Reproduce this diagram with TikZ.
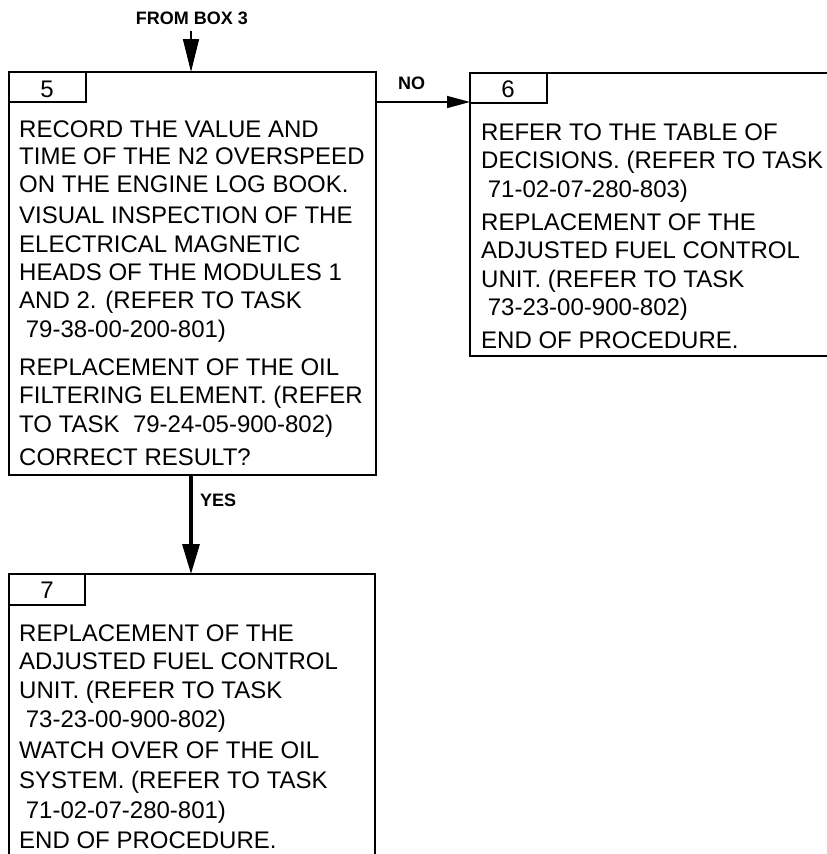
\documentclass[tikz,border=0pt]{standalone}
\usepackage{fontspec}
\setmainfont{Liberation Sans}
\usetikzlibrary{arrows.meta}
\begin{document}
\begin{tikzpicture}[x=1pt,y=-1pt,
  boxstyle/.style={draw=black, line width=1.8pt, rectangle, inner sep=0pt, outer sep=0pt, anchor=north west},
  tabstyle/.style={draw=black, line width=1.8pt, rectangle, inner sep=0pt, outer sep=0pt, anchor=north west, minimum width=77pt, minimum height=30pt},
  numstyle/.style={anchor=base, inner sep=0pt, font=\fontsize{24}{28}\selectfont},
  txt/.style={anchor=base west, inner sep=0pt, font=\fontsize{24}{28}\selectfont},
  lbl/.style={inner sep=0pt, font=\fontsize{18}{20}\selectfont\bfseries},
  thinarrow/.style={line width=1.5pt, -{Triangle[length=33pt,width=16pt]}},
  noarrow/.style={line width=1.5pt, -{Triangle[length=23pt,width=12pt]}},
  thickarrow/.style={line width=3.2pt, -{Triangle[length=30pt,width=17pt]}}
]
\useasboundingbox (0,0) rectangle (827,854);
\clip (0,0) rectangle (827,854);

% boxes
\node[boxstyle, minimum width=367pt, minimum height=403pt] (box5) at (9,72) {};
\node[tabstyle] (tab5) at (9,72) {};
\node[numstyle] (n5) at (47,97) {5};

\node[boxstyle, minimum width=380pt, minimum height=283pt] (box6) at (470,73) {};
\node[tabstyle] (tab6) at (470,73) {};
\node[numstyle] (n6) at (508,97) {6};

\node[boxstyle, minimum width=366pt, minimum height=320pt] (box7) at (9,574) {};
\node[tabstyle, minimum width=76pt, minimum height=31pt] (tab7) at (9,574) {};
\node[numstyle] (n7) at (47,598) {7};

% box 5 text
\foreach \yy/\tt [count=\i] in {
  137/{RECORD THE VALUE AND},
  164/{TIME OF THE N2 OVERSPEED},
  192/{ON THE ENGINE LOG BOOK.},
  223/{VISUAL INSPECTION OF THE},
  252/{ELECTRICAL MAGNETIC},
  280/{HEADS OF THE MODULES 1},
  308/{AND 2. (REFER TO TASK},
  337/{\ 79-38-00-200-801)},
  375/{REPLACEMENT OF THE OIL},
  403/{FILTERING ELEMENT. (REFER},
  432/{TO TASK\ \ 79-24-05-900-802)},
  465/{CORRECT RESULT?}}
  {\node[txt] (t5l\i) at (19,\yy) {\tt};}

% box 6 text
\foreach \yy/\tt [count=\i] in {
  140/{REFER TO THE TABLE OF},
  168/{DECISIONS. (REFER TO TASK},
  197/{\ 71-02-07-280-803)},
  230/{REPLACEMENT OF THE},
  258/{ADJUSTED FUEL CONTROL},
  287/{UNIT. (REFER TO TASK},
  315/{\ 73-23-00-900-802)},
  348/{END OF PROCEDURE.}}
  {\node[txt] (t6l\i) at (481,\yy) {\tt};}

% box 7 text
\foreach \yy/\tt [count=\i] in {
  641/{REPLACEMENT OF THE},
  669/{ADJUSTED FUEL CONTROL},
  698/{UNIT. (REFER TO TASK},
  727/{\ 73-23-00-900-802)},
  758/{WATCH OVER OF THE OIL},
  788/{SYSTEM. (REFER TO TASK},
  818/{\ 71-02-07-280-801)},
  848/{END OF PROCEDURE.}}
  {\node[txt] (t7l\i) at (19,\yy) {\tt};}

% labels
\node[lbl, anchor=base] (from3) at (192,24) {FROM BOX 3};
\node[lbl, anchor=base west] (nolbl) at (398,89) {NO};
\node[lbl, anchor=base west] (yeslbl) at (200,506) {YES};

% connectors
\coordinate (f3) at (191,31);
\draw[thinarrow] (f3) -- (f3 |- box5.north);
\draw[noarrow] ([yshift=-30pt]box5.north east) coordinate (nos) -- (nos -| box6.west);
\draw[thickarrow] (f3 |- box5.south) -- (f3 |- box7.north);
\end{tikzpicture}
\end{document}
